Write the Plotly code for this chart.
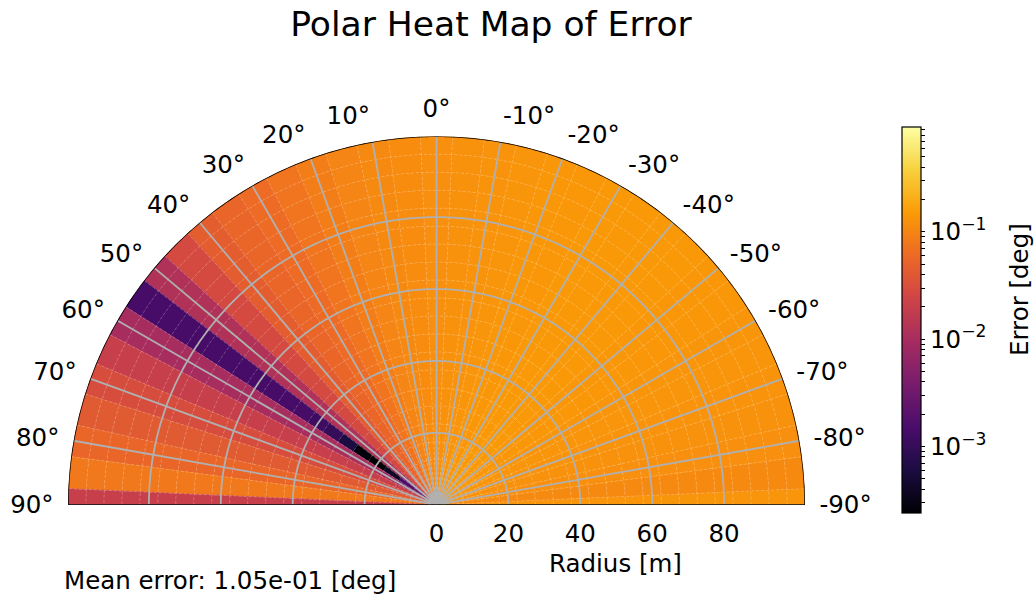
import numpy as np
import plotly.graph_objects as go
import plotly.colors as pc

# ---- data -------------------------------------------------------------
# bin centres of the error map (degrees / metres)
theta_centers = list(range(-90, 95, 5))
radius_centers = list(range(0, 105, 5))
bin_half_theta = 2.5
bin_half_radius = 2.5

# typical error [deg] along each angular bin (from -90 to 90)
error_by_angle = [
    0.135, 0.110, 0.120, 0.125, 0.130, 0.135, 0.135, 0.140, 0.140, 0.145,  # -90 .. -45
    0.145, 0.145, 0.145, 0.140, 0.140, 0.135, 0.130, 0.125, 0.120,         # -40 .. 0
    0.115, 0.110, 0.100, 0.088, 0.075, 0.062, 0.055, 0.045, 0.028,         # 5 .. 45
    0.012, 0.0014, 0.010, 0.020, 0.030, 0.042, 0.055, 0.080, 0.020,        # 50 .. 90
]

# error in the innermost ring (r = 0) for each angular bin
error_center_ring = [
    0.85, 0.85, 0.85, 0.85, 0.85, 0.85, 0.85, 0.85, 0.85, 0.85,
    0.85, 0.85, 0.85, 0.85, 0.85, 0.85, 0.85, 0.85, 0.90,
    0.90, 0.90, 0.90, 0.90, 0.90, 0.90, 0.90, 0.90, 0.90,
    0.90, 0.95, 0.90, 0.90, 0.90, 0.90, 0.90, 0.90, 0.90,
]

# cells that differ from their angular bin: (theta, radius, error)
cell_errors = [
    (55, 5, 0.003), (55, 10, 0.0015), (55, 15, 0.0004), (55, 20, 0.00024),
    (55, 25, 0.00026), (55, 30, 0.0006), (55, 35, 0.0010), (55, 40, 0.0012),
    (60, 5, 0.003), (60, 10, 0.004), (60, 15, 0.007),
    (50, 5, 0.005), (50, 10, 0.007),
]

mean_error = 1.05e-01
err_min, err_max = 2.4e-4, 0.95

angle_ticks = list(range(-90, 95, 10))
radius_ticks = [0, 20, 40, 60, 80]
radius_max = 102.5
cbar_decades = [-3, -2, -1]

FS = 24.5

# ---- assemble grid ------------------------------------------------------
grid = {}
for i, th in enumerate(theta_centers):
    for r in radius_centers:
        grid[(th, r)] = error_by_angle[i]
    grid[(th, 0)] = error_center_ring[i]
for th, r, v in cell_errors:
    grid[(th, r)] = v

cell_theta, cell_width, cell_base, cell_len, cell_val = [], [], [], [], []
for (th, r), v in grid.items():
    t0 = max(th - bin_half_theta, -90)
    t1 = min(th + bin_half_theta, 90)
    r0 = max(r - bin_half_radius, 0)
    r1 = r + bin_half_radius
    cell_theta.append((t0 + t1) / 2)
    cell_width.append(t1 - t0)
    cell_base.append(r0)
    cell_len.append(r1 - r0)
    cell_val.append(np.log10(v))

cmin, cmax = np.log10(err_min), np.log10(err_max)
scale = pc.sequential.Inferno
colorscale = [[i / (len(scale) - 1), c] for i, c in enumerate(scale)]


def cell_color(lv):
    f = (lv - cmin) / (cmax - cmin)
    f = min(max(f, 0), 1)
    return pc.sample_colorscale(colorscale, [f])[0]


# outline each cell in its own colour so neighbours join without seams
edge_colors = [cell_color(v) for v in cell_val]

# colourbar ticks: decades labelled, minor ticks unlabelled
cb_vals, cb_text = [], []
for d in range(-4, 1):
    for m in range(1, 10):
        lv = d + np.log10(m)
        if cmin <= lv <= cmax:
            cb_vals.append(lv)
            cb_text.append(f"10<sup>\u2212{-d}</sup>" if (m == 1 and d in cbar_decades) else " ")

fig = go.Figure()
fig.add_trace(go.Barpolar(
    theta=cell_theta, width=cell_width, base=cell_base, r=cell_len,
    marker=dict(
        color=cell_val, colorscale=colorscale, cmin=cmin, cmax=cmax,
        line=dict(width=0.6, color=edge_colors),
        colorbar=dict(
            x=902 / 1035, xanchor="left", xpad=0,
            y=1 - 320 / 597, yanchor="middle", ypad=0,
            len=386 / 597, lenmode="fraction", thickness=19,
            outlinewidth=1.2, outlinecolor="black",
            tickmode="array", tickvals=cb_vals, ticktext=cb_text,
            ticks="outside", ticklen=4, tickcolor="black",
            tickfont=dict(size=FS, color="black"),
        ),
    ),
    hoverinfo="skip", showlegend=False,
))

arc = np.linspace(-90, 90, 361)


def add_lines(segments, color, width, dash="solid"):
    rs, ts = [], []
    for r_seg, t_seg in segments:
        rs += list(r_seg) + [None]
        ts += list(t_seg) + [None]
    fig.add_trace(go.Scatterpolar(
        r=rs, theta=ts, mode="lines",
        line=dict(color=color, width=width, dash=dash),
        hoverinfo="skip", showlegend=False,
    ))


# dashed cell boundaries
theta_edges = [c + bin_half_theta for c in theta_centers[:-1]]
radius_edges = [c + bin_half_radius for c in radius_centers[:-1]]
add_lines([([0, radius_max], [t, t]) for t in theta_edges],
          "rgba(255,255,255,0.4)", 0.6, "3px,2px")
add_lines([([re] * len(arc), arc) for re in radius_edges],
          "rgba(255,255,255,0.4)", 0.6, "3px,2px")

# major grid
add_lines([([0, radius_max], [t, t]) for t in angle_ticks[1:-1]], "#b0b0b0", 1.8)
add_lines([([rt] * len(arc), arc) for rt in radius_ticks[1:]], "#b0b0b0", 1.8)

# frame
add_lines([([0, radius_max], [-90, -90]), ([0, radius_max], [90, 90]),
           ([radius_max] * len(arc), arc)], "black", 1.6)

fig.update_layout(
    width=1035, height=597,
    margin=dict(l=0, r=0, t=0, b=0),
    paper_bgcolor="white",
    font=dict(family="DejaVu Sans", color="black"),
    title=dict(text="Polar Heat Map of Error", x=491 / 1035, xanchor="center",
               y=1 - 24 / 597, yanchor="middle", font=dict(size=34.5, color="black")),
    polar=dict(
        domain=dict(x=[68 / 1035, 805 / 1035], y=[92 / 597, 461 / 597]),
        sector=[0, 180],
        bgcolor="white",
        angularaxis=dict(
            rotation=90, direction="counterclockwise",
            tickmode="array", tickvals=angle_ticks,
            ticktext=[f"{a}\u00b0" for a in angle_ticks],
            tickfont=dict(size=FS, color="black"),
            showgrid=False, showline=False,
            ticks="outside", ticklen=9, tickcolor="rgba(0,0,0,0)",
        ),
        radialaxis=dict(
            range=[0, radius_max], angle=0,
            tickmode="array", tickvals=radius_ticks,
            tickfont=dict(size=FS, color="black"),
            showgrid=False, showline=False,
            ticks="outside", ticklen=7, tickcolor="rgba(0,0,0,0)",
        ),
    ),
    annotations=[
        dict(text="Radius [m]", xref="paper", yref="paper",
             x=615 / 1035, y=1 - 563 / 597, xanchor="center", yanchor="middle",
             showarrow=False, font=dict(size=FS, color="black")),
        dict(text=f"Mean error: {mean_error:.2e} [deg]", xref="paper", yref="paper",
             x=62 / 1035, y=1 - 580 / 597, xanchor="left", yanchor="middle",
             showarrow=False, font=dict(size=FS, color="black")),
        dict(text="Error [deg]", xref="paper", yref="paper", textangle=-90,
             x=1019 / 1035, y=1 - 290 / 597, xanchor="center", yanchor="middle",
             showarrow=False, font=dict(size=FS, color="black")),
    ],
)

fig.write_html("out.html")
